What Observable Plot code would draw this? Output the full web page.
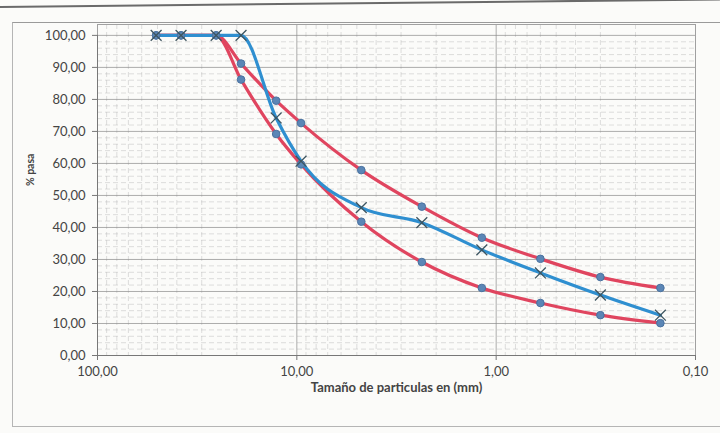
<!DOCTYPE html>
<html>
<head>
<meta charset="utf-8">
<script src="https://cdn.jsdelivr.net/npm/d3@7"></script>
<script src="https://cdn.jsdelivr.net/npm/@observablehq/plot@0.6"></script>
<style>
  html, body { margin: 0; padding: 0; background: #fbfbf9; }
  #wrap { position: relative; width: 720px; height: 433px; overflow: hidden; }
  #border { position: absolute; left: 12px; top: 22px; width: 760px; height: 403px;
            border-left: 1px solid #b5b5b5; border-top: 1px solid #9a9a9a; border-bottom: 1px solid #b5b5b5; pointer-events: none; }
  #scanline { position: absolute; left: 0; top: 6px; width: 720px; height: 2px; background: #6a6a6a; transform: rotate(-0.6deg); transform-origin: left; }
</style>
</head>
<body>
<div id="wrap"><div id="scanline"></div><div id="border"></div></div>
<script>
// Sieve sizes (mm)
const sizes = [50.8, 38.1, 25.4, 19.05, 12.7, 9.525, 4.75, 2.36, 1.18, 0.6, 0.3, 0.15];
// % passing - upper limit (red, circles)
const upperLimit = [100, 100, 100, 91.2, 79.6, 72.6, 57.9, 46.5, 36.8, 30.2, 24.5, 21.1];
// % passing - lower limit (red, circles)
const lowerLimit = [100, 100, 100, 86.2, 69.2, 59.7, 41.8, 29.2, 21.1, 16.4, 12.6, 10.1];
// % passing - sample (blue, crosses)
const sample = [100, 100, 100, 100, 74.2, 60.7, 46.2, 41.5, 33.0, 25.8, 18.9, 12.6];

const xTicks = [100, 10, 1, 0.1];
const yTicks = [0, 10, 20, 30, 40, 50, 60, 70, 80, 90, 100];
const xMinor = [90,80,70,60,50,40,30,20, 9,8,7,6,5,4,3,2, 0.9,0.8,0.7,0.6,0.5,0.4,0.3,0.2];
const yMinor = [2,4,6,8,12,14,16,18,22,24,26,28,32,34,36,38,42,44,46,48,52,54,56,58,62,64,66,68,72,74,76,78,82,84,86,88,92,94,96,98];

const fmt = v => v.toFixed(2).replace(".", ",");

const upperData = sizes.map((s, i) => ({size: s, pct: upperLimit[i]}));
const lowerData = sizes.map((s, i) => ({size: s, pct: lowerLimit[i]}));
const sampleData = sizes.map((s, i) => ({size: s, pct: sample[i]}));

const red = "#e0455f";
const blue = "#2f8fd0";

const chart = Plot.plot({
  width: 720,
  height: 433,
  marginLeft: 97,
  marginRight: 25,
  marginTop: 24,
  marginBottom: 78,
  style: {background: "transparent", fontFamily: "Lato, 'Open Sans', sans-serif", fontSize: "13px", color: "#444"},
  x: {type: "log", domain: [100, 0.1]},
  y: {domain: [0, 103.4]},
  marks: [
    Plot.gridY(yMinor, {stroke: "#b8b8b8", strokeOpacity: 0.45, strokeDasharray: "5,3"}),
    Plot.gridX(xMinor, {stroke: "#b8b8b8", strokeOpacity: 0.45, strokeDasharray: "5,3"}),
    Plot.gridY(yTicks, {stroke: "#8a8a8a", strokeOpacity: 0.7}),
    Plot.gridX(xTicks, {stroke: "#8a8a8a", strokeOpacity: 0.7}),
    Plot.frame({stroke: "#a0a0a0"}),
    Plot.ruleX([100], {y1: 0, y2: 100, stroke: "#777"}),
    Plot.ruleY([0], {stroke: "#777"}),
    Plot.axisY(yTicks, {tickFormat: fmt, tickSize: 5, tickPadding: 7, label: null, stroke: "#777", fontSize: 13}),
    Plot.axisX(xTicks, {tickFormat: fmt, tickSize: 5, tickPadding: 6, label: null, stroke: "#777", fontSize: 13}),
    Plot.text(["% pasa"], {frameAnchor: "left", dx: -67, dy: -4, rotate: -90, fontWeight: "bold", fontSize: 10.5, fill: "#444"}),
    Plot.text(["Tamaño de particulas en (mm)"], {frameAnchor: "bottom", dy: 36, fontWeight: "bold", fontSize: 13, fill: "#444"}),
    Plot.line(upperData, {x: "size", y: "pct", stroke: red, strokeWidth: 3.2, curve: "monotone-x"}),
    Plot.line(lowerData, {x: "size", y: "pct", stroke: red, strokeWidth: 3.2, curve: "monotone-x"}),
    Plot.line(sampleData, {x: "size", y: "pct", stroke: blue, strokeWidth: 3.2, curve: "monotone-x"}),
    Plot.dot(upperData, {x: "size", y: "pct", r: 3.8, fill: "#5b86b6", stroke: "#4a72a0", strokeWidth: 1}),
    Plot.dot(lowerData, {x: "size", y: "pct", r: 3.8, fill: "#5b86b6", stroke: "#4a72a0", strokeWidth: 1}),
    Plot.dot(sampleData, {x: "size", y: "pct", symbol: "times", r: 5, stroke: "#3e5560", strokeWidth: 1.3})
  ]
});
document.getElementById("wrap").appendChild(chart);
chart.style.position = "absolute";
chart.style.left = "0";
chart.style.top = "0";
</script>
</body>
</html>
